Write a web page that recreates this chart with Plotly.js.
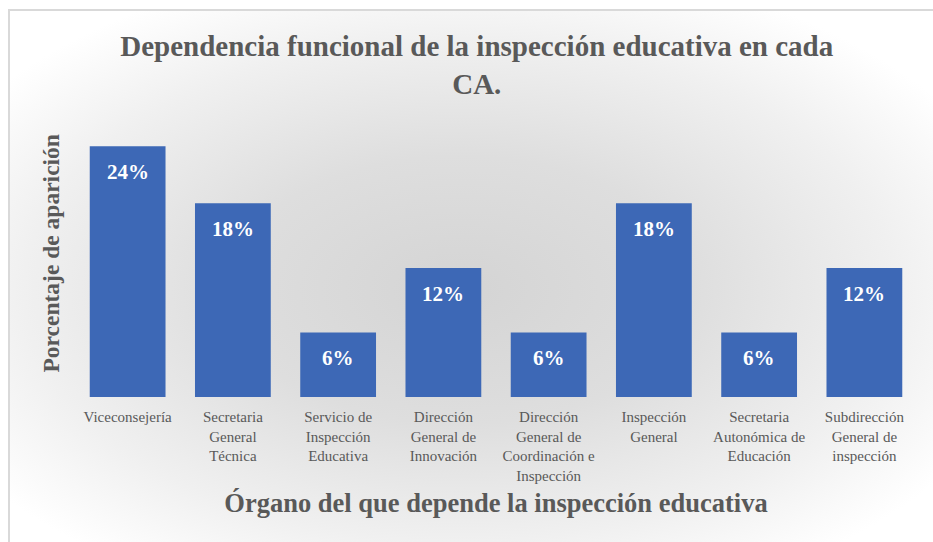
<!DOCTYPE html>
<html>
<head>
<meta charset="utf-8">
<script src="https://cdn.plot.ly/plotly-3.0.1.min.js"></script>
<style>
  html, body { margin: 0; padding: 0; width: 933px; height: 542px; overflow: hidden; background: #ffffff; }
  #wrap { position: absolute; left: 0; top: 0; width: 933px; height: 542px; }
  #frame { position: absolute; left: 8px; top: 9px; width: 940px; height: 560px;
           border-left: 2px solid #d9d9d9; border-top: 2px solid #d9d9d9; box-sizing: border-box;
           background: radial-gradient(ellipse 62% 60% at 48% 50%, #d4d4d4 0%, #dedede 40%, #f0f0f0 75%, #ffffff 100%); }
  #chart { position: absolute; left: 0; top: 0; width: 933px; height: 542px; }
</style>
</head>
<body>
<div id="wrap">
  <div id="frame"></div>
  <div id="chart"></div>
</div>
<script>
const categories = [
  "Viceconsejería",
  "Secretaria<br>General<br>Técnica",
  "Servicio de<br>Inspección<br>Educativa",
  "Dirección<br>General de<br>Innovación",
  "Dirección<br>General de<br>Coordinación e<br>Inspección",
  "Inspección<br>General",
  "Secretaria<br>Autonómica de<br>Educación",
  "Subdirección<br>General de<br>inspección"
];
const values = [23.3, 18, 6, 12, 6, 18, 6, 12];
const valueLabels = ["24%", "18%", "6%", "12%", "6%", "18%", "6%", "12%"];

const serif = "Liberation Serif";
const gray = "#595959";

const trace = {
  type: "bar",
  x: categories,
  y: values,
  width: 0.72,
  marker: { color: "#3d68b6", line: { width: 0 } },
  hoverinfo: "skip"
};

const annotations = categories.map((c, i) => ({
  x: c, y: values[i], xref: "x", yref: "y",
  text: "<b>" + valueLabels[i] + "</b>", showarrow: false,
  yanchor: "middle", yshift: -26,
  font: { family: serif, size: 21, color: "#ffffff" }
}));

annotations.push({
  text: "<b>Porcentaje de aparición</b>",
  xref: "paper", yref: "paper",
  x: -0.028, y: 0.535,
  xanchor: "center", yanchor: "middle",
  textangle: -90, showarrow: false,
  font: { family: serif, size: 23.5, color: gray }
});

const layout = {
  width: 933, height: 542,
  paper_bgcolor: "rgba(0,0,0,0)",
  plot_bgcolor: "rgba(0,0,0,0)",
  margin: { l: 75, r: 16, t: 128, b: 145 },
  showlegend: false,
  bargap: 0.28,
  font: { family: serif, color: gray },
  title: {
    text: "<b>Dependencia funcional de la inspección educativa en cada<br>CA.</b>",
    font: { family: serif, size: 29, color: gray },
    x: 0.511, xanchor: "center",
    y: 1 - 56 / 542, yref: "container", yanchor: "middle"
  },
  xaxis: {
    type: "category",
    showgrid: false, zeroline: false, showline: false, ticks: "",
    ticklabelstandoff: 9,
    tickfont: { family: serif, size: 15, color: gray },
    title: {
      text: "<b>Órgano del que depende la inspección educativa</b>",
      font: { family: serif, size: 26.5, color: gray },
      standoff: 10
    }
  },
  yaxis: {
    range: [0, 25],
    showgrid: false, zeroline: false, showline: false, showticklabels: false, ticks: ""
  },
  annotations: annotations
};

Plotly.newPlot("chart", [trace], layout, { displayModeBar: false, staticPlot: true });
</script>
</body>
</html>
